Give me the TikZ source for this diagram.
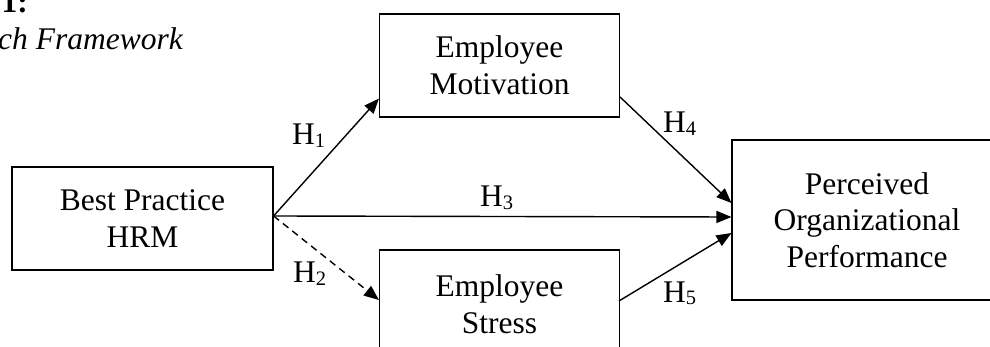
\documentclass[tikz,border=0pt]{standalone}
\usepackage{fontspec}
\setmainfont{Liberation Serif}
\usetikzlibrary{arrows.meta,calc}
\newcommand{\hsub}[1]{H\raisebox{-0.09em}{\fontsize{20.5}{20.5}\selectfont #1}}
\begin{document}
\begin{tikzpicture}[x=1pt,y=-1pt,
  box/.style={draw=black,line width=1.1pt,fill=white,align=center,inner sep=0pt,
    font=\fontsize{31.5}{36.6}\selectfont},
  lbl/.style={anchor=base west,inner sep=0pt,font=\fontsize{31.5}{36.6}\selectfont},
  conn/.style={line width=1.4pt,-{Triangle[length=15pt,width=12pt]}},
]
\clip (0,0) rectangle (990,347);
\useasboundingbox (0,0) rectangle (990,347);
% title fragments
\node[anchor=base east,inner sep=0pt,font=\fontsize{31.5}{36.6}\selectfont\bfseries] (fig) at (28,13) {1:};
\node[anchor=base east,inner sep=0pt,font=\fontsize{31.5}{36.6}\selectfont\itshape] (ttl) at (183,50) {ch Framework};
% boxes
\node[box,minimum width=261pt,minimum height=103pt] (hrm) at (142.5,218.5) {Best Practice\\HRM};
\node[box,minimum width=240pt,minimum height=103pt] (mot) at (499.5,65.5) {Employee\\Motivation};
\node[box,minimum width=240pt,minimum height=108pt] (str) at (499.5,304) {Employee\\Stress};
\node[box,minimum width=270pt,minimum height=160pt] (perf) at (867,220) {Perceived\\Organizational\\Performance};
% connector endpoints
\coordinate (src) at ($(hrm.east)+(0,-2.5)$);
\coordinate (t1) at ($(mot.south west)+(0,-19)$);
\coordinate (t2) at ($(str.west)+(0,-4)$);
\coordinate (t3) at ($(perf.west)+(0,-3)$);
\coordinate (t4) at ($(perf.west)+(0,-17)$);
\coordinate (t5) at ($(perf.west)+(0,13)$);
\coordinate (s4) at ($(mot.east)+(0,31.5)$);
\coordinate (s5) at ($(str.west)+(240,-3)$);
% connectors
\draw[conn] (src) -- (t1);
\draw[conn,dash pattern=on 7pt off 5pt] (src) -- (t2);
\draw[conn] (src) -- (t3);
\draw[conn] (s4) -- (t4);
\draw[conn] (s5) -- (t5);
% labels
\node[lbl] (h1) at (292,145) {\hsub{1}};
\node[lbl] (h2) at (293,283) {\hsub{2}};
\node[lbl] (h3) at (480,207) {\hsub{3}};
\node[lbl] (h4) at (663,133) {\hsub{4}};
\node[lbl] (h5) at (663,302) {\hsub{5}};
\end{tikzpicture}
\end{document}
